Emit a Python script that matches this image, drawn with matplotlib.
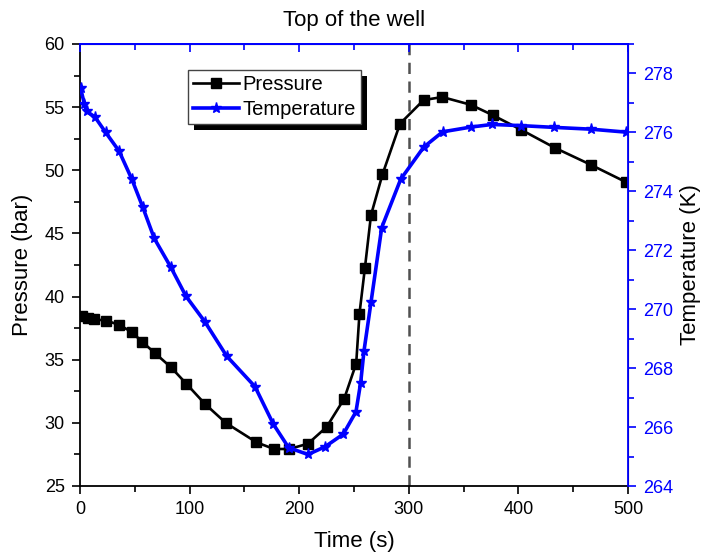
import matplotlib
matplotlib.use("Agg")
import matplotlib.pyplot as plt
from matplotlib.patches import Rectangle
from matplotlib.ticker import MultipleLocator

plt.rcParams['font.family'] = ['Liberation Sans', 'DejaVu Sans']

# pressure at the top of the well
t_p = [2, 7, 13, 24, 36, 47, 57, 68, 83, 97, 114, 133, 161, 177, 191, 208,
       225, 241, 252, 255, 260, 265.5, 276, 292, 313.5, 330.5, 356.5, 376.5,
       402.5, 433, 466, 498]
pressure = [38.45, 38.3, 38.2, 38.1, 37.75, 37.2, 36.4, 35.55, 34.4, 33.1,
            31.5, 30.0, 28.46, 27.93, 27.93, 28.35, 29.67, 31.9, 34.7, 38.65,
            42.3, 46.45, 49.68, 53.69, 55.56, 55.8, 55.19, 54.37, 53.21,
            51.79, 50.44, 49.07]

# temperature at the top of the well
t_T = [0.5, 4, 6, 13.7, 23.4, 35.6, 47.2, 57.2, 67.8, 82.8, 96.7, 114, 133.8,
       159.7, 176.4, 190.4, 208, 223.5, 240.2, 251.8, 256.1, 259.1, 265.5,
       275.3, 292.6, 313.6, 330.9, 356.5, 375.9, 402.4, 432.8, 466, 498]
temperature = [277.5, 276.97, 276.72, 276.52, 276.0, 275.37, 274.42, 273.47,
               272.40, 271.43, 270.44, 269.57, 268.41, 267.37, 266.10, 265.30,
               265.07, 265.33, 265.76, 266.52, 267.51, 268.58, 270.23, 272.77,
               274.41, 275.50, 276.02, 276.18, 276.27, 276.23, 276.17, 276.11,
               276.01]

t_marker = 300
blue = '#0000ff'

fig = plt.figure(figsize=(7.03, 5.57), dpi=100)
ax = fig.add_axes([80/703, 1-486/557, 548/703, 442/557])
ax2 = ax.twinx()

lp, = ax.plot(t_p, pressure, color='black', lw=1.9, marker='s', ms=6.5,
              label='Pressure')
lt, = ax2.plot(t_T, temperature, color=blue, lw=2.6, marker='*', ms=8,
               label='Temperature')
ax.axvline(t_marker, color='#505050', lw=1.8, ls=(0, (4.5, 3)))

ax.set_xlim(0, 500)
ax.set_ylim(25, 60)
ax2.set_ylim(264, 279)

ax.xaxis.set_major_locator(MultipleLocator(100))
ax.xaxis.set_minor_locator(MultipleLocator(50))
ax.yaxis.set_major_locator(MultipleLocator(5))
ax.yaxis.set_minor_locator(MultipleLocator(2.5))
ax2.yaxis.set_major_locator(MultipleLocator(2))
ax2.yaxis.set_minor_locator(MultipleLocator(1))

ax.tick_params(which='both', direction='out', labelsize=13, width=1.2,
               top=False, right=False, pad=5)
ax.tick_params(which='major', length=6)
ax.tick_params(which='minor', length=4)
ax2.tick_params(which='both', direction='out', colors=blue, labelsize=13,
                width=1.2, pad=5)
ax2.tick_params(which='major', length=6)
ax2.tick_params(which='minor', length=4)

# blue top axis with inward ticks
top = ax2.secondary_xaxis('top')
top.set_xticks(range(0, 501, 100))
top.xaxis.set_minor_locator(MultipleLocator(50))
top.tick_params(which='both', direction='in', colors=blue, labeltop=False,
                width=1.2)
top.tick_params(which='major', length=6)
top.tick_params(which='minor', length=4)
top.spines['top'].set_color(blue)
top.spines['top'].set_linewidth(1.3)

for s in ['left', 'bottom']:
    ax.spines[s].set_linewidth(1.3)
ax2.spines['right'].set_color(blue)
ax2.spines['right'].set_linewidth(1.3)
ax2.spines['top'].set_color(blue)
ax2.spines['top'].set_linewidth(1.3)
ax2.spines['left'].set_visible(False)
ax2.spines['bottom'].set_visible(False)

ax.set_xlabel('Time (s)', fontsize=16, labelpad=9)
ax.set_ylabel('Pressure (bar)', fontsize=16, labelpad=8)
ax2.set_ylabel('Temperature (K)', fontsize=16, labelpad=5, color='black')
ax.set_title('Top of the well', fontsize=16, pad=13)

leg = ax2.legend(handles=[lp, lt], loc='upper left',
                 bbox_to_anchor=(108/548, 1-26/442), fontsize=14.5,
                 fancybox=False, edgecolor='#444444', framealpha=1,
                 numpoints=1, handlelength=2.3, handletextpad=0.15,
                 borderpad=0.25, labelspacing=0.3, borderaxespad=0)
leg.get_frame().set_linewidth(1.0)
leg.set_zorder(10)

# solid black drop shadow behind the legend box
fig.canvas.draw()
bb = leg.get_window_extent().transformed(fig.transFigure.inverted())
dx, dy = 6/703, 6/557
fig.patches.append(Rectangle((bb.x0 + dx, bb.y0 - dy), bb.width, bb.height,
                             transform=fig.transFigure, facecolor='black',
                             edgecolor='none', zorder=1))
ax.set_zorder(2)
ax2.set_zorder(3)
ax.patch.set_visible(False)

fig.savefig('out.png', dpi=100)
